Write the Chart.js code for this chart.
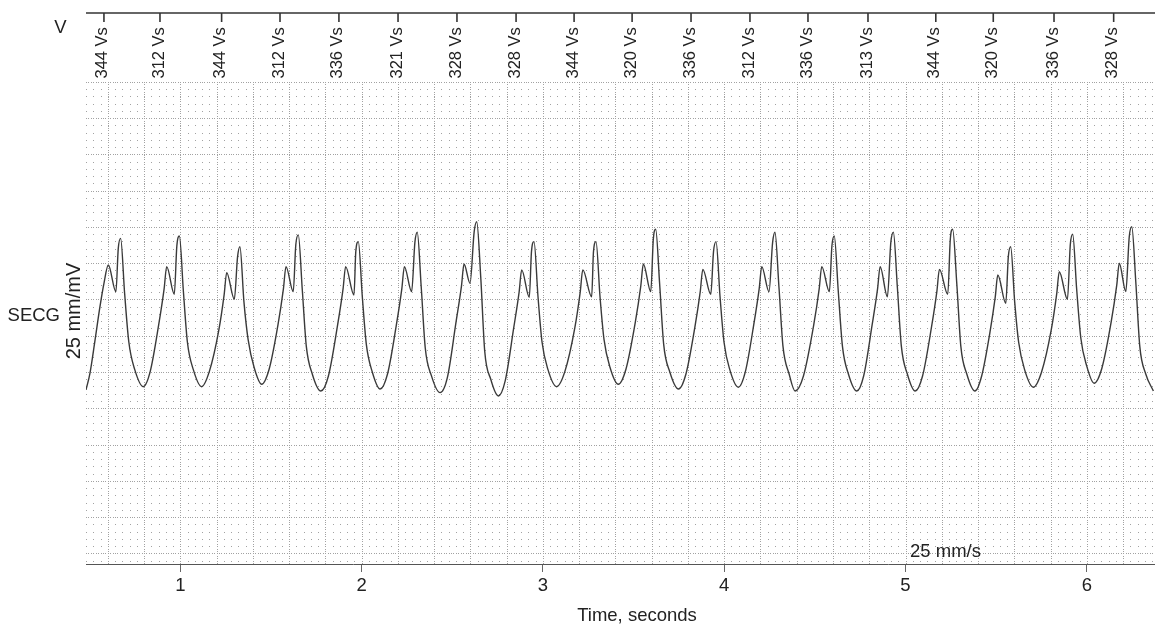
<!DOCTYPE html>
<html lang="en">
<head>
  <meta charset="UTF-8" />
  <title>SECG strip</title>
  <script src="https://cdn.jsdelivr.net/npm/chart.js"></script>
  <style>
    html, body { margin: 0; padding: 0; background: #fff; }
    #wrap { position: relative; width: 1155px; height: 625px; }
  </style>
</head>
<body>
  <div id="wrap"><canvas id="ecg"></canvas></div>

  <script>
    // trace: time in seconds, amplitude in mV
    const ecgTime = [
      0.480, 0.502, 0.530, 0.557, 0.579, 0.603, 0.645, 0.658, 0.671, 0.693, 0.716, 0.749, 0.796,
      0.834, 0.881, 0.911, 0.925, 0.967, 0.981, 0.995, 1.017, 1.039, 1.072, 1.118,
      1.160, 1.212, 1.242, 1.256, 1.298, 1.316, 1.329, 1.351, 1.374, 1.407, 1.449,
      1.490, 1.539, 1.569, 1.583, 1.623, 1.637, 1.651, 1.673, 1.695, 1.728, 1.775,
      1.817, 1.868, 1.898, 1.912, 1.958, 1.968, 1.982, 2.004, 2.026, 2.059, 2.102,
      2.143, 2.192, 2.222, 2.236, 2.276, 2.294, 2.307, 2.329, 2.351, 2.385, 2.433,
      2.473, 2.521, 2.551, 2.565, 2.598, 2.621, 2.635, 2.657, 2.679, 2.712, 2.754,
      2.792, 2.839, 2.869, 2.883, 2.925, 2.937, 2.951, 2.973, 2.995, 3.028, 3.076,
      3.121, 3.176, 3.206, 3.220, 3.269, 3.279, 3.293, 3.315, 3.337, 3.370, 3.416,
      3.458, 3.510, 3.540, 3.554, 3.595, 3.609, 3.622, 3.644, 3.666, 3.700, 3.748,
      3.789, 3.838, 3.868, 3.882, 3.926, 3.941, 3.955, 3.977, 3.999, 4.032, 4.078,
      4.116, 4.163, 4.193, 4.207, 4.247, 4.267, 4.280, 4.302, 4.324, 4.358, 4.391,
      4.437, 4.494, 4.524, 4.538, 4.580, 4.594, 4.607, 4.629, 4.652, 4.685, 4.731,
      4.769, 4.816, 4.846, 4.860, 4.900, 4.919, 4.933, 4.955, 4.977, 5.010, 5.053,
      5.094, 5.143, 5.173, 5.187, 5.233, 5.247, 5.260, 5.283, 5.305, 5.338, 5.383,
      5.420, 5.465, 5.495, 5.509, 5.553, 5.567, 5.580, 5.602, 5.624, 5.658, 5.705,
      5.750, 5.804, 5.834, 5.848, 5.893, 5.909, 5.922, 5.944, 5.967, 6.000, 6.040,
      6.083, 6.135, 6.165, 6.179, 6.215, 6.234, 6.248, 6.270, 6.292, 6.325, 6.367
    ];
    const ecgMv = [
      0.901, 0.994, 1.177, 1.360, 1.489, 1.590, 1.443, 1.682, 1.737, 1.434, 1.167, 1.013, 0.919,
      1.002, 1.261, 1.460, 1.581, 1.429, 1.695, 1.750, 1.447, 1.167, 1.013, 0.919,
      1.002, 1.228, 1.427, 1.548, 1.401, 1.636, 1.691, 1.388, 1.180, 1.026, 0.932,
      1.015, 1.261, 1.460, 1.581, 1.443, 1.700, 1.756, 1.452, 1.143, 0.989, 0.895,
      0.978, 1.261, 1.460, 1.581, 1.425, 1.664, 1.719, 1.415, 1.154, 1.000, 0.906,
      0.989, 1.261, 1.460, 1.581, 1.443, 1.715, 1.771, 1.467, 1.134, 0.980, 0.886,
      0.969, 1.276, 1.475, 1.596, 1.489, 1.774, 1.829, 1.526, 1.116, 0.961, 0.868,
      0.951, 1.243, 1.442, 1.563, 1.412, 1.664, 1.719, 1.415, 1.167, 1.013, 0.919,
      1.002, 1.243, 1.442, 1.563, 1.415, 1.664, 1.719, 1.415, 1.180, 1.026, 0.932,
      1.015, 1.276, 1.475, 1.596, 1.443, 1.732, 1.787, 1.484, 1.154, 1.000, 0.906,
      0.989, 1.246, 1.445, 1.566, 1.429, 1.664, 1.719, 1.415, 1.164, 1.009, 0.916,
      0.999, 1.261, 1.460, 1.581, 1.443, 1.715, 1.771, 1.467, 1.143, 0.989, 0.895,
      0.978, 1.261, 1.460, 1.581, 1.443, 1.695, 1.750, 1.447, 1.143, 0.989, 0.895,
      0.978, 1.261, 1.460, 1.581, 1.415, 1.715, 1.771, 1.467, 1.143, 0.989, 0.895,
      0.978, 1.246, 1.445, 1.566, 1.429, 1.732, 1.787, 1.484, 1.143, 0.989, 0.895,
      0.978, 1.215, 1.414, 1.535, 1.379, 1.636, 1.691, 1.388, 1.164, 1.009, 0.916,
      0.999, 1.233, 1.432, 1.553, 1.401, 1.704, 1.760, 1.456, 1.186, 1.031, 0.938,
      1.021, 1.280, 1.479, 1.600, 1.443, 1.746, 1.801, 1.498, 1.143, 0.989, 0.895
    ];

    // sensed beats marked along the top
    const beatTime = [
      0.579, 0.888, 1.228, 1.550, 1.875, 2.201, 2.526, 2.852, 3.172,
      3.492, 3.817, 4.142, 4.462, 4.793, 5.167, 5.484, 5.819, 6.148
    ];
    const beatLabels = [
      "344 Vs", "312 Vs", "344 Vs", "312 Vs", "336 Vs", "321 Vs", "328 Vs", "328 Vs", "344 Vs",
      "320 Vs", "336 Vs", "312 Vs", "336 Vs", "313 Vs", "344 Vs", "320 Vs", "336 Vs", "328 Vs"
    ];

    const timeTicks = [1, 2, 3, 4, 5, 6];

    const FONT = "'Liberation Sans', Arial, sans-serif";
    const MM = 0.04;         // one small square: 0.04 s across, 0.04 mV up (25 mm/s, 25 mm/mV)
    const GRID_TOP = 2.6;    // paper grid stops here, the marker strip sits above

    // ECG paper: small dots every mm, dotted lines every 5 mm
    const paperGrid = {
      id: 'paperGrid',
      beforeDatasetsDraw(chart) {
        const { ctx, chartArea: a, scales: { x, y } } = chart;
        const top = Math.round(y.getPixelForValue(GRID_TOP));
        const step = (y.getPixelForValue(0) - y.getPixelForValue(MM)) / 3;
        const cols = [];
        for (let i = Math.ceil(x.min / MM - 1e-6); i * MM <= x.max + 1e-9; i++) {
          cols.push({ px: Math.round(x.getPixelForValue(i * MM)), major: i % 5 === 0 });
        }
        const rows = [];
        for (let j = Math.ceil(y.min / MM - 1e-6); j * MM <= GRID_TOP + 1e-9; j++) {
          rows.push({ py: Math.round(y.getPixelForValue(j * MM)), major: j % 5 === 0 });
        }
        ctx.save();
        ctx.fillStyle = '#a2a2a2';
        rows.forEach(r => {
          if (r.major) {
            for (let px = a.left; px < a.right; px += step) ctx.fillRect(Math.round(px), r.py, 1, 1);
          } else {
            cols.forEach(c => ctx.fillRect(c.px, r.py, 1, 1));
          }
        });
        cols.filter(c => c.major).forEach(c => {
          for (let py = top; py < a.bottom; py += step) ctx.fillRect(c.px, Math.round(py), 1, 1);
        });
        ctx.restore();
      }
    };

    // top marker strip plus the loose labels
    const stripText = {
      id: 'stripText',
      afterDraw(chart) {
        const { ctx, chartArea: a, scales: { x } } = chart;
        ctx.save();
        ctx.strokeStyle = '#333';
        ctx.lineWidth = 1.6;
        ctx.beginPath();
        ctx.moveTo(a.left, a.top);
        ctx.lineTo(a.right, a.top);
        ctx.stroke();

        ctx.fillStyle = '#222';
        ctx.font = `16.5px ${FONT}`;
        beatTime.forEach((t, i) => {
          const px = x.getPixelForValue(t);
          ctx.beginPath();
          ctx.moveTo(px, a.top);
          ctx.lineTo(px, a.top + 9);
          ctx.stroke();
          ctx.save();
          ctx.translate(px - 1, a.top + 65.5);
          ctx.rotate(-Math.PI / 2);
          ctx.textAlign = 'left';
          ctx.textBaseline = 'middle';
          ctx.fillText(beatLabels[i], 0, 0);
          ctx.restore();
        });

        ctx.font = `18.5px ${FONT}`;
        ctx.textBaseline = 'middle';
        ctx.textAlign = 'center';
        ctx.fillText('V', 60.5, 27.5);
        ctx.textAlign = 'right';
        ctx.fillText('SECG', 60, 316);
        ctx.save();
        ctx.translate(74, 311);
        ctx.rotate(-Math.PI / 2);
        ctx.textAlign = 'center';
        ctx.font = `20px ${FONT}`;
        ctx.fillText('25 mm/mV', 0, 0);
        ctx.restore();
        ctx.textAlign = 'center';
        ctx.fillText('Time, seconds', 637, 615.5);
        ctx.textAlign = 'left';
        ctx.textBaseline = 'alphabetic';
        ctx.fillText('25 mm/s', 910, 556.5);
        ctx.restore();
      }
    };

    new Chart(document.getElementById('ecg'), {
      type: 'line',
      data: {
        datasets: [{
          data: ecgTime.map((t, i) => ({ x: t, y: ecgMv[i] })),
          borderColor: '#3a3a3a',
          borderWidth: 1.4,
          pointRadius: 0,
          cubicInterpolationMode: 'monotone',
          fill: false
        }]
      },
      options: {
        responsive: true,
        maintainAspectRatio: false,
        animation: false,
        events: [],
        layout: { padding: { left: 86, top: 13, right: 0, bottom: 28 } },
        plugins: {
          legend: { display: false },
          tooltip: { enabled: false }
        },
        scales: {
          x: {
            type: 'linear',
            min: 0.48,
            max: 6.376,
            afterBuildTicks: s => { s.ticks = timeTicks.map(v => ({ value: v })); },
            afterFit: s => { s.height = 33; },
            grid: { drawOnChartArea: false, tickLength: 8, tickColor: '#666', tickWidth: 1 },
            border: { color: '#555', width: 1 },
            ticks: {
              color: '#222',
              font: { size: 18.5, family: FONT },
              padding: 3,
              maxRotation: 0,
              autoSkip: false
            }
          },
          y: { display: false, min: -0.059, max: 2.98 }
        }
      },
      plugins: [paperGrid, stripText]
    });
  </script>
</body>
</html>
